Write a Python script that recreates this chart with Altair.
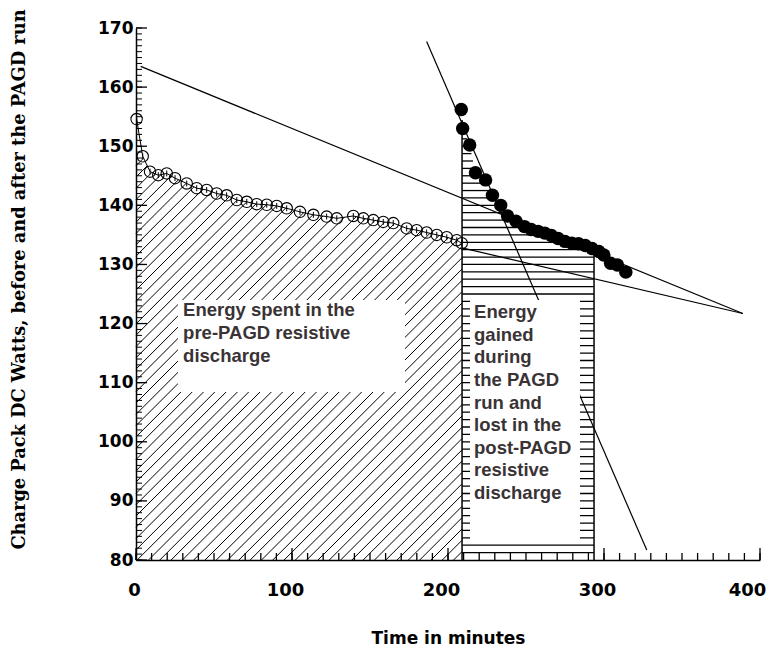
import altair as alt
import pandas as pd
import numpy as np

# ---------------- data ----------------
pre_t = [0.4, 4.3, 9.0, 14.3, 19.7, 25.0, 32.5, 38.9, 45.3, 51.7, 58.1, 64.6, 71.0, 77.4,
         83.8, 90.2, 96.6, 105.1, 113.7, 122.2, 128.7, 139.3, 145.7, 152.1, 158.5, 164.9,
         173.5, 179.9, 186.3, 192.8, 199.2, 205.6, 208.8]
pre_w = [154.6, 148.3, 145.7, 145.1, 145.4, 144.6, 143.7, 142.9, 142.6, 142.0, 141.7, 140.9,
         140.6, 140.2, 140.1, 139.9, 139.5, 138.9, 138.4, 138.1, 137.8, 138.2, 137.8, 137.5,
         137.2, 137.0, 136.1, 135.8, 135.4, 135.0, 134.6, 134.1, 133.6]

post_t = [208.5, 209.4, 213.9, 217.6, 224.1, 228.5, 233.8, 238.2, 243.6, 249.0, 253.3, 257.7,
          262.0, 266.3, 270.6, 275.0, 279.4, 283.7, 288.0, 292.3, 296.7, 299.9, 304.2, 308.6, 314.0]
post_w = [156.2, 153.0, 150.2, 145.5, 144.3, 141.7, 140.0, 138.2, 137.3, 136.4, 135.9, 135.6,
          135.3, 134.9, 134.4, 133.9, 133.6, 133.5, 133.2, 132.7, 132.2, 131.6, 130.2, 129.9, 128.7]

# straight reference lines (start / end)
line_t = [3.0, 389.0, 209.0, 389.0, 186.3, 327.4]
line_w = [163.5, 121.7, 132.8, 121.7, 167.7, 81.7]
line_id = ["a", "a", "b", "b", "c", "c"]

# hatched regions limits (minutes)
pre_end = 209.0
post_end = 293.6

# annotation boxes and texts
box_t1 = [26.9, 214.1]
box_t2 = [172.4, 284.6]
box_w1 = [108.4, 83.4]
box_w2 = [124.0, 124.0]
note_t = [30.2, 216.7]
note_w = [121.2, 120.9]
note_txt = ["Energy spent in the\npre-PAGD resistive\ndischarge",
            "Energy\ngained\nduring\nthe PAGD\nrun and\nlost in the\npost-PAGD\nresistive\ndischarge"]

x_labels = [0, 100, 200, 300, 400]
y_labels = [80, 90, 100, 110, 120, 130, 140, 150, 160, 170]
x_minor = list(range(0, 401, 10))
y_minor = list(range(80, 171, 1))

# ---------------- geometry ----------------
W, H = 624, 532
XMIN, XMAX, YMIN, YMAX = 0, 400, 80, 170
px_x = W / (XMAX - XMIN)
px_y = H / (YMAX - YMIN)

# diagonal hatch (45 degrees on screen) under the pre-PAGD curve
slope = px_x / px_y
step = 11.3 / px_x
top_t = np.array(pre_t[1:])
top_w = np.array(pre_w[1:])
rows = []
c = -260.0
while c < pre_end:
    xs0 = max(XMIN, c)
    xs = np.linspace(xs0, pre_end, 3000)
    ln = YMIN + slope * (xs - c)
    g = np.interp(xs, top_t, top_w) - ln
    if g[0] > 0:
        idx = np.where(g <= 0)[0]
        xe = xs[idx[0]] if len(idx) else pre_end
        rows.append({"t": xs0, "w": YMIN + slope * (xs0 - c), "t2": xe, "w2": YMIN + slope * (xe - c)})
    c += step
diag = pd.DataFrame(rows)

# horizontal hatch under the post-PAGD curve
rows = []
pw = np.array(post_w[::-1])
pt = np.array(post_t[::-1])
lev = YMIN + 1.25
while lev < max(post_w):
    xe = min(post_end, float(np.interp(lev, pw, pt)))
    if xe > pre_end:
        rows.append({"t": pre_end, "w": lev, "t2": xe, "w2": lev})
    lev += 1.25
horiz = pd.DataFrame(rows)

edge = pd.DataFrame({"t": [pre_end, post_end], "w": [YMIN, YMIN],
                     "w2": [float(np.interp(pre_end, post_t, post_w)),
                            float(np.interp(post_end, post_t, post_w))]})

# ---------------- scales / axes ----------------
XS = alt.Scale(domain=[XMIN, XMAX], nice=False, zero=False)
YS = alt.Scale(domain=[YMIN, YMAX], nice=False, zero=False)
x_offset = {"condition": [{"test": "datum.value == 0", "value": -2},
                          {"test": "datum.value == 400", "value": -13}],
            "value": -7}
xax = alt.Axis(values=x_labels, ticks=False, grid=False, domainColor="black", domainWidth=1.5,
               labelFont="DejaVu Sans", labelFontSize=18, labelFontWeight="bold", labelColor="black",
               labelPadding=21, labelOffset=x_offset, labelFlush=False,
               title="Time in minutes", titleFont="DejaVu Sans",
               titleFontSize=17, titleFontWeight="bold", titleColor="black",
               titleX=312, titleY=78, titleBaseline="middle", titleAlign="center")
yax = alt.Axis(values=y_labels, ticks=False, grid=False, domainColor="black", domainWidth=1.5,
               labelFont="DejaVu Sans", labelFontSize=17, labelFontWeight="bold", labelColor="black",
               labelPadding=3, labelBaseline="middle", labelFlush=False,
               title="Charge Pack DC Watts, before and after the PAGD run",
               titleFont="DejaVu Serif", titleFontSize=17.8, titleFontWeight="bold", titleColor="black",
               titleX=-117, titleY=251, titleAngle=-90, titleBaseline="middle", titleAlign="center")


def X(f):
    return alt.X(f, type="quantitative", scale=XS, axis=xax)


def Y(f):
    return alt.Y(f, type="quantitative", scale=YS, axis=yax)


hatch_d = alt.Chart(diag).mark_rule(color="black", strokeWidth=1).encode(
    x=X("t"), y=Y("w"), x2="t2", y2="w2")
hatch_h = alt.Chart(horiz).mark_rule(color="black", strokeWidth=1.3).encode(
    x=X("t"), y=Y("w"), x2="t2", y2="w2")
edges = alt.Chart(edge).mark_rule(color="black", strokeWidth=1.5).encode(
    x=X("t"), y=Y("w"), y2="w2")

lines_df = pd.DataFrame({"t": line_t, "w": line_w, "id": line_id})
ref_lines = alt.Chart(lines_df).mark_line(color="black", strokeWidth=1.2).encode(
    x=X("t"), y=Y("w"), detail="id")

boxes_df = pd.DataFrame({"t": box_t1, "t2": box_t2, "w": box_w1, "w2": box_w2})
boxes = alt.Chart(boxes_df).mark_rect(fill="white", stroke=None).encode(
    x=X("t"), x2="t2", y=Y("w"), y2="w2")

notes_df = pd.DataFrame({"t": note_t, "w": note_w, "txt": note_txt})
notes = alt.Chart(notes_df).mark_text(
    align="left", baseline="alphabetic", font="Liberation Sans", fontSize=18.5,
    fontWeight="bold", color="#3a3335", lineBreak="\n", lineHeight=22.6).encode(
    x=X("t"), y=Y("w"), text="txt")

pre_df = pd.DataFrame({"t": pre_t, "w": pre_w})
pre_df["lo"] = pre_df["w"] - 0.5
pre_df["hi"] = pre_df["w"] + 0.5
pre_line = alt.Chart(pre_df).mark_line(color="black", strokeWidth=1).encode(x=X("t"), y=Y("w"))
pre_err = alt.Chart(pre_df).mark_rule(color="black", strokeWidth=1).encode(
    x=X("t"), y=Y("lo"), y2="hi")
pre_pts = alt.Chart(pre_df).mark_point(shape="circle", size=130, filled=False, color="black",
                                       strokeWidth=1.1, opacity=1).encode(x=X("t"), y=Y("w"))
post_df = pd.DataFrame({"t": post_t, "w": post_w})
post_pts = alt.Chart(post_df).mark_point(shape="circle", size=180, filled=True, color="black",
                                         opacity=1).encode(x=X("t"), y=Y("w"))

# inward axis ticks
xmaj = alt.Chart(pd.DataFrame({"t": x_labels})).mark_rule(color="black", strokeWidth=1.3).encode(
    x=X("t"), y=alt.value(H), y2=alt.value(H - 12))
xmin_ = alt.Chart(pd.DataFrame({"t": x_minor})).mark_rule(color="black", strokeWidth=1.3).encode(
    x=X("t"), y=alt.value(H), y2=alt.value(H - 7))
ymaj = alt.Chart(pd.DataFrame({"w": y_labels})).mark_rule(color="black", strokeWidth=1.3).encode(
    y=Y("w"), x=alt.value(0), x2=alt.value(11))
ymin_ = alt.Chart(pd.DataFrame({"w": y_minor})).mark_rule(color="black", strokeWidth=1).encode(
    y=Y("w"), x=alt.value(0), x2=alt.value(6))

chart = alt.layer(
    hatch_d, hatch_h, edges, ref_lines, boxes, notes, pre_line, pre_err, pre_pts, post_pts,
    xmaj, xmin_, ymaj, ymin_
).properties(
    width=W, height=H,
    padding={"left": 128, "top": 20, "right": 6, "bottom": 86},
    autosize=alt.AutoSizeParams(type="none"),
    background="white"
).configure_view(stroke=None)

chart.save("out.html", embed_options={"renderer": "svg", "actions": False})
